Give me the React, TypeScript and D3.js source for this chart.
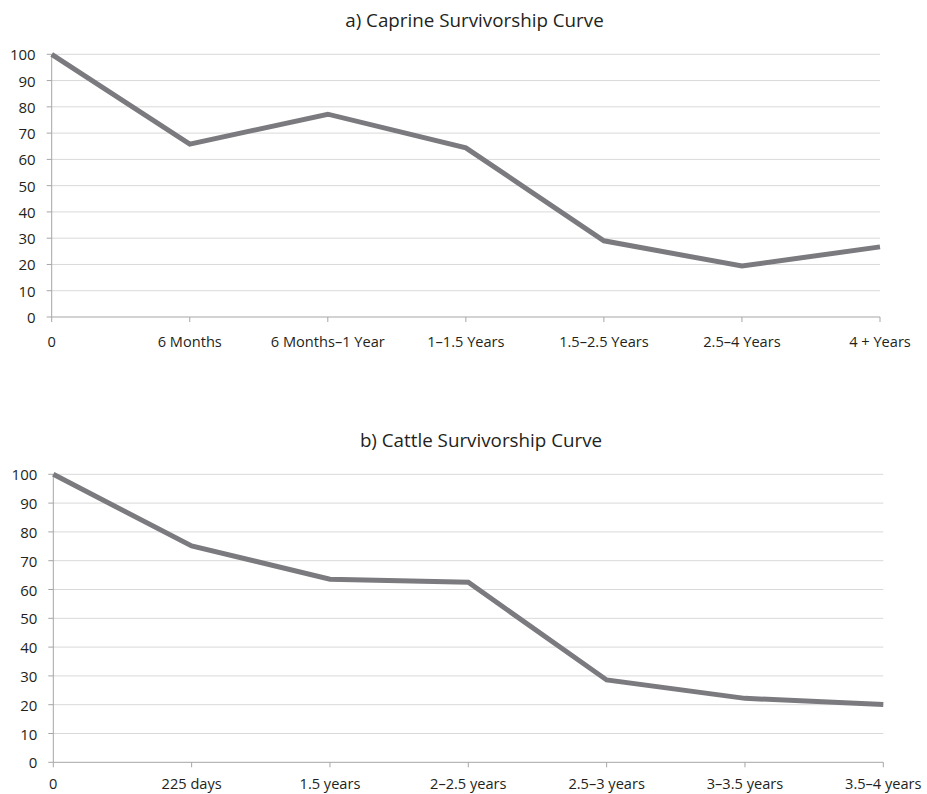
import React from "react";
import * as d3 from "d3";

const caprineCategories = ["0", "6 Months", "6 Months\u20131 Year", "1\u20131.5 Years", "1.5\u20132.5 Years", "2.5\u20134 Years", "4 + Years"];
const caprineValues = [100, 65.8, 77.2, 64.4, 29.0, 19.4, 26.7];
const cattleCategories = ["0", "225 days", "1.5 years", "2\u20132.5 years", "2.5\u20133 years", "3\u20133.5 years", "3.5\u20134 years"];
const cattleValues = [100, 75.1, 63.6, 62.5, 28.6, 22.2, 20.1];
const yTicks = [0, 10, 20, 30, 40, 50, 60, 70, 80, 90, 100];
const titles = ["a) Caprine Survivorship Curve", "b) Cattle Survivorship Curve"];

const FONT = "'Open Sans', sans-serif";

function Panel({ title, cats, vals, left, right, top, bottom, titleX, titleY, labelOffset }) {
  const x = d3.scalePoint().domain(cats).range([left, right]).padding(0);
  const y = d3.scaleLinear().domain([0, 100]).range([bottom, top]);
  const line = d3.line().x((d, i) => x(cats[i])).y((d) => y(d));
  return (
    <g>
      <text x={titleX} y={titleY} textAnchor="middle" dominantBaseline="central" fontFamily={FONT} fontSize={18.8} fill="#231f20">{title}</text>
      {yTicks.filter((t) => t > 0).map((t) => (
        <line key={"g" + t} x1={left} x2={right} y1={y(t)} y2={y(t)} stroke="#d9d9d9" strokeWidth={1} />
      ))}
      <line x1={left} x2={left} y1={top} y2={bottom} stroke="#a6a6a6" strokeWidth={1} />
      <line x1={left} x2={right} y1={bottom} y2={bottom} stroke="#a6a6a6" strokeWidth={1} />
      {yTicks.map((t) => (
        <g key={"y" + t}>
          <line x1={left - 5} x2={left} y1={y(t)} y2={y(t)} stroke="#a6a6a6" />
          <text x={left - 16} y={y(t)} textAnchor="end" dominantBaseline="central" fontFamily={FONT} fontSize={15} fill="#231f20">{t}</text>
        </g>
      ))}
      {cats.map((c) => (
        <g key={"x" + c}>
          <line x1={x(c)} x2={x(c)} y1={bottom} y2={bottom + 5} stroke="#a6a6a6" />
          <text x={x(c)} y={bottom + labelOffset} textAnchor="middle" dominantBaseline="central" fontFamily={FONT} fontSize={14.6} fill="#231f20">{c}</text>
        </g>
      ))}
      <path d={line(vals)} fill="none" stroke="#7b7b7f" strokeWidth={5} strokeLinejoin="miter" />
    </g>
  );
}

export default function App() {
  return (
    <svg width={927} height={794} style={{ position: "absolute", left: 0, top: 0, background: "#fff" }}>
      <Panel title={titles[0]} cats={caprineCategories} vals={caprineValues} left={51.7} right={880} top={54.3} bottom={317} titleX={474.5} titleY={20} labelOffset={24} />
      <Panel title={titles[1]} cats={cattleCategories} vals={cattleValues} left={53.3} right={883.3} top={474.3} bottom={762.3} titleX={481} titleY={440} labelOffset={21} />
    </svg>
  );
}
